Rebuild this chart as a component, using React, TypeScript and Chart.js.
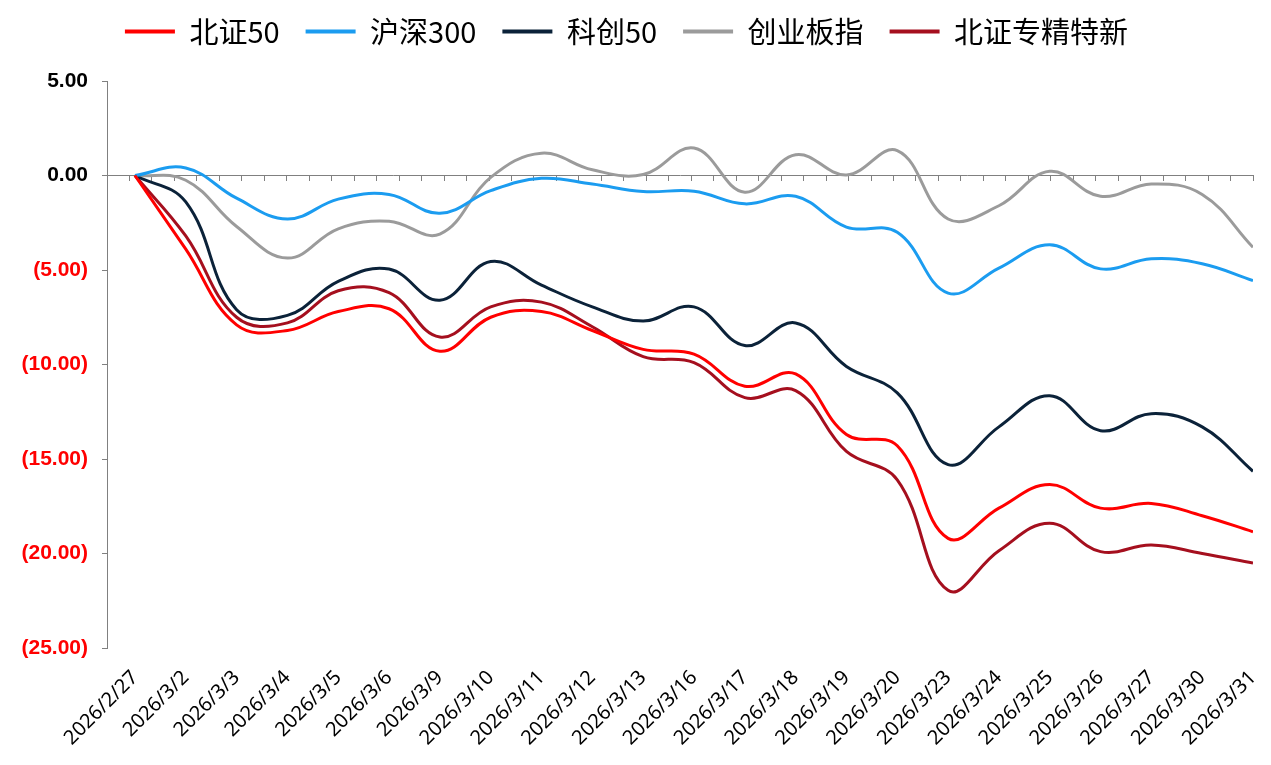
import React, { useEffect, useRef } from "react";
import { Chart, registerables } from "chart.js";

Chart.register(...registerables);

const categories = [
  "2026/2/27", "2026/3/2", "2026/3/3", "2026/3/4", "2026/3/5", "2026/3/6",
  "2026/3/9", "2026/3/10", "2026/3/11", "2026/3/12", "2026/3/13", "2026/3/16",
  "2026/3/17", "2026/3/18", "2026/3/19", "2026/3/20", "2026/3/23", "2026/3/24",
  "2026/3/25", "2026/3/26", "2026/3/27", "2026/3/30", "2026/3/31",
];

const seriesNames = ["北证50", "沪深300", "科创50", "创业板指", "北证专精特新"];
const seriesColors = ["#FF0000", "#1B9CF0", "#0B2239", "#9B9B9B", "#A50F1E"];

const bz50 = [0, -3.9, -7.9, -8.2, -7.2, -7.05, -9.3, -7.5, -7.2, -8.2, -9.2, -9.45, -11.15, -10.5, -13.7, -14.3, -19.2, -17.6, -16.35, -17.6, -17.35, -18.0, -18.85];
const hs300 = [0, 0.4, -1.2, -2.3, -1.25, -1.0, -2.0, -0.8, -0.15, -0.45, -0.85, -0.83, -1.5, -1.1, -2.73, -3.0, -6.22, -4.9, -3.67, -4.94, -4.41, -4.67, -5.56];
const kc50 = [0, -1.4, -7.1, -7.4, -5.6, -4.95, -6.6, -4.55, -5.8, -6.95, -7.7, -6.95, -9.0, -7.8, -10.1, -11.5, -15.3, -13.3, -11.65, -13.5, -12.6, -13.3, -15.65];
const cyb = [0, -0.25, -2.7, -4.37, -2.82, -2.42, -3.1, -0.1, 1.18, 0.3, 0.05, 1.45, -0.88, 1.1, 0.03, 1.32, -2.3, -1.6, 0.22, -1.1, -0.45, -1.0, -3.8];
const bzzjtx = [0, -3.2, -7.5, -7.8, -6.1, -6.2, -8.55, -6.95, -6.7, -8.0, -9.58, -9.9, -11.75, -11.38, -14.6, -16.1, -21.95, -19.85, -18.4, -19.9, -19.55, -20.0, -20.5];

const allSeries = [bz50, hs300, kc50, cyb, bzzjtx];

const yTicks = [5, 0, -5, -10, -15, -20, -25];

const legendGap = {
  id: "legendGap",
  beforeLayout(chart: any) {
    const lg = chart.legend;
    if (lg && !lg.__gapPatched) {
      const fit = lg.fit;
      lg.fit = function () {
        fit.call(this);
        this.height += 25;
      };
      lg.__gapPatched = true;
    }
  },
};

export default function App() {
  const ref = useRef<HTMLCanvasElement>(null);

  useEffect(() => {
    if (!ref.current) return;
    const datasets = allSeries.map((s, k) => ({
      label: seriesNames[k],
      data: s.map((v, i) => ({ x: i, y: v })),
      borderColor: seriesColors[k],
      backgroundColor: seriesColors[k],
      borderWidth: 3,
      pointRadius: 0,
      tension: 0.4,
      fill: false,
      xAxisID: "x",
      yAxisID: "y",
    }));

    const chart = new Chart(ref.current, {
      type: "line",
      data: { datasets },
      plugins: [legendGap],
      options: {
        animation: false,
        responsive: false,
        layout: { padding: { top: -9, right: 18, bottom: 0, left: 0 } },
        plugins: {
          legend: {
            position: "top",
            labels: {
              boxWidth: 50,
              boxHeight: 4,
              padding: 26,
              color: "#000",
              font: { family: "'Noto Sans CJK SC', 'Noto Sans', sans-serif", size: 29 },
              generateLabels: (c: any) =>
                (Chart.defaults.plugins.legend.labels.generateLabels as any)(c).map((it: any) => ({
                  ...it,
                  lineWidth: 0,
                })),
            },
          },
          tooltip: { enabled: false },
        },
        scales: {
          x: {
            type: "linear",
            position: "bottom",
            min: -0.55,
            max: 22,
            afterBuildTicks: (scale: any) => {
              scale.ticks = categories.map((_, i) => ({ value: i }));
            },
            afterFit: (scale: any) => {
              scale.height = 117;
              scale.paddingLeft = 0;
              scale.paddingRight = 0;
            },
            grid: { display: false, drawTicks: false },
            border: { display: false },
            ticks: {
              autoSkip: false,
              minRotation: 45,
              maxRotation: 45,
              padding: 18,
              color: "#000",
              font: { family: "'Noto Sans', 'Open Sans', sans-serif", size: 20 },
              callback: (v: any) => categories[v] ?? "",
            },
          },
          xz: {
            type: "linear",
            axis: "x",
            position: { y: 0 },
            min: 0,
            max: 51,
            afterBuildTicks: (scale: any) => {
              const t: any[] = [];
              for (let k = 0; k <= 51; k++) t.push({ value: k });
              scale.ticks = t;
            },
            grid: { display: true, drawOnChartArea: false, drawTicks: true, tickLength: 5, color: "#808080" },
            border: { display: true, color: "#808080", width: 1 },
            ticks: { display: false },
          },
          y: {
            type: "linear",
            position: "left",
            min: -25,
            max: 5,
            afterBuildTicks: (scale: any) => {
              scale.ticks = yTicks.map((v) => ({ value: v }));
            },
            afterFit: (scale: any) => {
              scale.width = 107;
            },
            grid: { display: true, drawOnChartArea: false, drawTicks: true, tickLength: 5, color: "#808080" },
            border: { display: true, color: "#808080", width: 1 },
            ticks: {
              padding: 14,
              font: { family: "'Liberation Sans', Arial, sans-serif", size: 21, weight: "bold" },
              color: (ctx: any) => (ctx.tick && ctx.tick.value < 0 ? "#FF0000" : "#000000"),
              callback: (v: any) => (v < 0 ? `(${Math.abs(v).toFixed(2)})` : Number(v).toFixed(2)),
            },
          },
        },
      } as any,
    });
    return () => chart.destroy();
  }, []);

  return (
    <div style={{ position: "absolute", left: 0, top: 0, width: 1271, height: 765, background: "#fff" }}>
      <canvas ref={ref} width={1271} height={765} style={{ display: "block" }} />
    </div>
  );
}
